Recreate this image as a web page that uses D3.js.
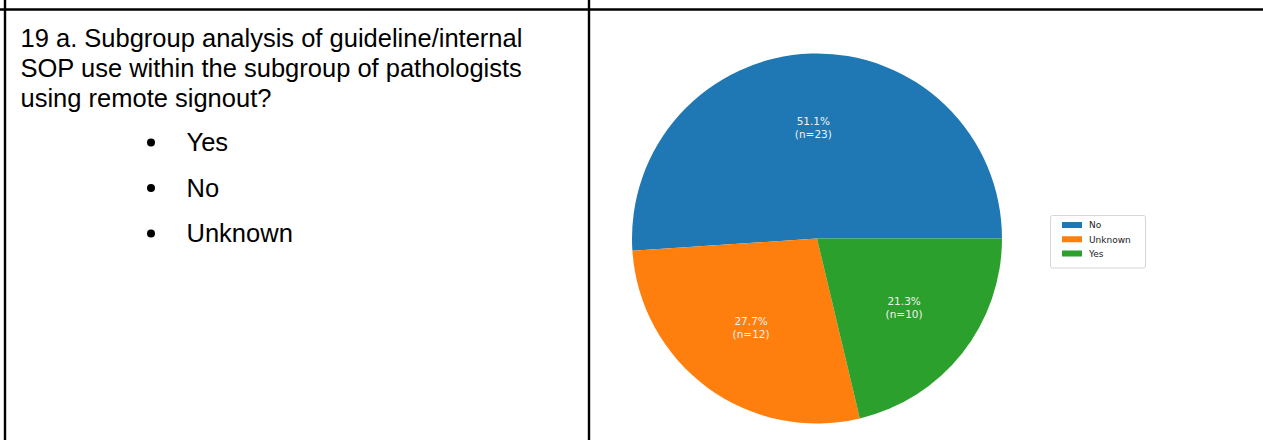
<!DOCTYPE html>
<html>
<head>
<meta charset="utf-8">
<script src="https://cdn.jsdelivr.net/npm/d3@7"></script>
<style>
  html, body { margin: 0; padding: 0; background: #fff; }
  svg { display: block; }
</style>
</head>
<body>
<svg id="chart" width="1263" height="440"></svg>
<script>
// ---- data ----
const questionLines = [
  "19 a. Subgroup analysis of guideline/internal",
  "SOP use within the subgroup of pathologists",
  "using remote signout?"
];
const options = ["Yes", "No", "Unknown"];
const categories = ["No", "Unknown", "Yes"];
const percents = [51.1, 27.7, 21.3];
const counts = [23, 12, 10];
const colors = ["#1f77b4", "#ff7f0e", "#2ca02c"];

// ---- drawing ----
const svg = d3.select("#chart");
const W = 1263, H = 440;
svg.append("rect").attr("width", W).attr("height", H).attr("fill", "#fff");

// table borders
const border = svg.append("g").attr("stroke", "#000").attr("stroke-width", 2.4);
border.append("line").attr("x1", 0).attr("x2", W).attr("y1", 9.5).attr("y2", 9.5);
border.append("line").attr("x1", 5).attr("x2", 5).attr("y1", 0).attr("y2", H);
border.append("line").attr("x1", 589).attr("x2", 589).attr("y1", 0).attr("y2", H);

// question text
const qFont = "'Liberation Sans', Arial, sans-serif";
svg.append("g").selectAll("text").data(questionLines).join("text")
  .attr("x", 20.5)
  .attr("y", (d, i) => 47 + i * 30)
  .attr("font-family", qFont)
  .attr("font-size", 25.5)
  .attr("fill", "#000")
  .text(d => d);

// option bullets
const optY = d3.scalePoint().domain(options).range([151, 242]);
const og = svg.append("g");
og.selectAll("circle").data(options).join("circle")
  .attr("cx", 151)
  .attr("cy", d => optY(d) - 8.5)
  .attr("r", 4)
  .attr("fill", "#000");
og.selectAll("text").data(options).join("text")
  .attr("x", 186.5)
  .attr("y", d => optY(d))
  .attr("font-family", qFont)
  .attr("font-size", 25.5)
  .attr("fill", "#000")
  .text(d => d);

// pie (matplotlib style: start at east, counter-clockwise)
const cx = 817, cy = 238.5, R = 185;
const pie = d3.pie().sort(null).value(d => d.p)
  .startAngle(Math.PI / 2).endAngle(Math.PI / 2 - 2 * Math.PI);
const data = categories.map((c, i) => ({ c, p: percents[i], n: counts[i], col: colors[i] }));
const arcs = pie(data);
const arc = d3.arc().innerRadius(0).outerRadius(R);
const labelArc = d3.arc().innerRadius(R * 0.6).outerRadius(R * 0.6);

const pg = svg.append("g").attr("transform", `translate(${cx},${cy})`);
pg.selectAll("path").data(arcs).join("path")
  .attr("d", arc)
  .attr("fill", d => d.data.col);

const lblFont = "'DejaVu Sans', sans-serif";
const lg = pg.selectAll("g.lbl").data(arcs).join("g")
  .attr("class", "lbl")
  .attr("transform", d => `translate(${labelArc.centroid(d)})`);
lg.append("text")
  .attr("text-anchor", "middle")
  .attr("font-family", lblFont)
  .attr("font-size", 10.5)
  .attr("fill", "#f2f2f2")
  .attr("y", -2.8)
  .text(d => d.data.p.toFixed(1) + "%");
lg.append("text")
  .attr("text-anchor", "middle")
  .attr("font-family", lblFont)
  .attr("font-size", 10.5)
  .attr("fill", "#f2f2f2")
  .attr("y", 10.5)
  .text(d => "(n=" + d.data.n + ")");

// legend
const leg = svg.append("g").attr("transform", "translate(1050,215)");
leg.append("rect")
  .attr("x", 0.5).attr("y", 0.5).attr("width", 95).attr("height", 52.5)
  .attr("rx", 2).attr("fill", "#fff").attr("stroke", "#d6d6d6").attr("stroke-width", 1);
const legY = d3.scalePoint().domain(categories).range([10, 38.5]);
const items = leg.selectAll("g.item").data(data).join("g").attr("class", "item")
  .attr("transform", d => `translate(0,${legY(d.c)})`);
items.append("rect")
  .attr("x", 12).attr("y", -3).attr("width", 20).attr("height", 6)
  .attr("fill", d => d.col);
items.append("text")
  .attr("x", 39).attr("y", 3.3)
  .attr("font-family", lblFont)
  .attr("font-size", 9)
  .attr("fill", "#222")
  .text(d => d.c);
</script>
</body>
</html>
